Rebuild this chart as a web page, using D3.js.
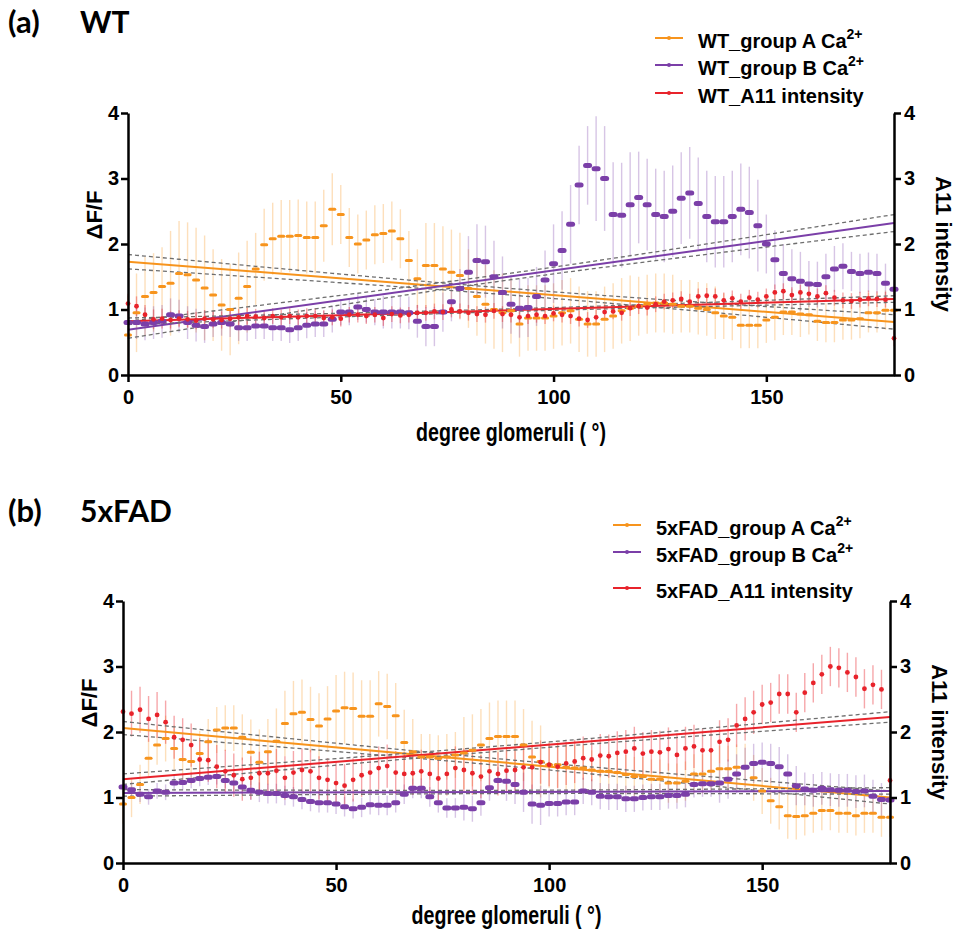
<!DOCTYPE html>
<html>
<head>
<meta charset="utf-8">
<script src="https://cdn.jsdelivr.net/npm/d3@7"></script>
<style>
  body { margin: 0; background: #fff; }
</style>
</head>
<body>
<div id="vis"></div>
<script>
// x grid (degrees) shared by every series, one point every 2 degrees
const degrees = d3.range(0, 181, 2);

// WT panel, values
const wtGroupA = [0.61, 0.95, 1.2, 1.26, 1.35, 1.4, 1.55, 1.53, 1.45, 1.33,
  1.22, 1.07, 1.0, 1.17, 1.35, 1.62, 1.99, 2.08, 2.12, 2.12,
  2.13, 2.1, 2.1, 2.28, 2.53, 2.45, 2.1, 2.0, 2.06, 2.14,
  2.16, 2.2, 2.08, 1.75, 1.47, 1.67, 1.67, 1.62, 1.57, 1.52,
  1.32, 1.2, 1.08, 1.0, 0.95, 0.98, 0.78, 0.87, 0.87, 0.87,
  0.9, 0.95, 0.98, 0.85, 0.78, 0.78, 0.85, 0.9, 0.98, 1.02,
  1.05, 1.08, 1.1, 1.1, 1.08, 1.05, 1.05, 1.02, 1.0, 0.95,
  0.9, 0.88, 0.76, 0.76, 0.76, 0.84, 0.88, 0.96, 0.96, 0.93,
  0.92, 0.82, 0.8, 0.8, 0.84, 0.84, 0.86, 0.95, 0.95, 0.99, 0.99];
const wtGroupB = [0.8, 0.8, 0.78, 0.8, 0.82, 0.92, 0.9, 0.8, 0.76, 0.74,
  0.78, 0.8, 0.78, 0.72, 0.72, 0.75, 0.75, 0.72, 0.72, 0.69,
  0.72, 0.76, 0.78, 0.78, 0.85, 0.96, 0.96, 1.04, 1.0, 0.96,
  0.96, 0.96, 0.96, 0.95, 0.82, 0.74, 0.74, 0.96, 1.12, 1.32,
  1.57, 1.75, 1.73, 1.5, 1.26, 1.08, 1.02, 1.03, 1.2, 1.45,
  1.7, 1.9, 2.3, 2.9, 3.2, 3.15, 3.0, 2.45, 2.44, 2.6,
  2.71, 2.6, 2.45, 2.42, 2.5, 2.7, 2.78, 2.62, 2.42, 2.34,
  2.34, 2.42, 2.53, 2.48, 2.28, 2.0, 1.76, 1.55, 1.47, 1.43,
  1.39, 1.38, 1.5, 1.62, 1.66, 1.58, 1.55, 1.57, 1.55, 1.4, 1.31];
const wtA11 = [1.09, 1.05, 0.92, 0.85, 0.86, 0.84, 0.86, 0.85, 0.83, 0.86,
  0.85, 0.84, 0.86, 0.88, 0.9, 0.89, 0.87, 0.9, 0.88, 0.9,
  0.88, 0.9, 0.9, 0.87, 0.88, 0.86, 0.92, 0.92, 0.9, 0.92,
  0.87, 0.93, 0.91, 0.92, 0.95, 0.95, 0.97, 0.96, 1.0, 0.97,
  0.95, 0.93, 0.92, 0.98, 0.93, 0.92, 0.88, 0.9, 0.92, 0.9,
  0.94, 0.92, 0.9, 0.86, 0.84, 0.88, 0.96, 0.97, 0.95, 1.02,
  1.05, 1.03, 1.08, 1.12, 1.14, 1.16, 1.12, 1.2, 1.21, 1.2,
  1.14, 1.17, 1.12, 1.18, 1.15, 1.2, 1.26, 1.28, 1.22, 1.26,
  1.24, 1.2, 1.25, 1.18, 1.14, 1.13, 1.15, 1.17, 1.16, 1.15, 0.56];

// 5xFAD panel
const fadGroupA = [0.9, 1.0, 1.2, 1.6, 1.8, 1.9, 1.75, 1.58, 1.55, 1.67,
  1.85, 2.03, 2.06, 2.06, 1.92, 1.69, 1.54, 1.7, 1.86, 2.13,
  2.28, 2.3, 2.19, 2.09, 2.2, 2.32, 2.37, 2.36, 2.24, 2.24,
  2.43, 2.39, 2.25, 1.84, 1.7, 1.62, 1.62, 1.6, 1.62, 1.65,
  1.68, 1.72, 1.8, 1.9, 1.93, 1.93, 1.93, 1.8, 1.62, 1.55,
  1.5, 1.5, 1.46, 1.45, 1.45, 1.42, 1.4, 1.4, 1.38, 1.35,
  1.32, 1.32, 1.28, 1.28, 1.22, 1.22, 1.25, 1.36, 1.36, 1.4,
  1.44, 1.44, 1.46, 1.47, 1.3, 1.1, 0.95, 0.86, 0.72, 0.71,
  0.72, 0.76, 0.8, 0.8, 0.76, 0.76, 0.72, 0.76, 0.76, 0.7, 0.7];
const fadGroupB = [1.16, 1.12, 1.05, 1.01, 1.1, 1.08, 1.22, 1.23, 1.26, 1.29,
  1.31, 1.32, 1.26, 1.22, 1.16, 1.11, 1.08, 1.06, 1.06, 1.03,
  1.01, 0.97, 0.94, 0.92, 0.92, 0.9, 0.86, 0.83, 0.85, 0.89,
  0.88, 0.88, 0.92, 1.05, 1.14, 1.14, 1.01, 0.92, 0.84, 0.84,
  0.85, 0.83, 0.92, 1.15, 1.26, 1.25, 1.2, 1.08, 0.9, 0.88,
  0.91, 0.91, 0.93, 0.93, 1.1, 1.08, 1.02, 1.01, 1.01, 0.98,
  0.98, 1.0, 1.01, 1.01, 1.03, 1.03, 1.05, 1.2, 1.21, 1.21,
  1.22, 1.28, 1.36, 1.46, 1.52, 1.54, 1.52, 1.47, 1.36, 1.18,
  1.13, 1.11, 1.14, 1.12, 1.11, 1.11, 1.09, 1.1, 1.02, 0.97, 0.96];
const fadA11 = [2.31, 2.28, 2.34, 2.2, 2.26, 2.15, 1.92, 1.88, 1.8, 1.58,
  1.57, 1.47, 1.4, 1.34, 1.28, 1.3, 1.37, 1.37, 1.41, 1.3,
  1.38, 1.42, 1.4, 1.3, 1.27, 1.22, 1.18, 1.27, 1.34, 1.38,
  1.45, 1.48, 1.38, 1.36, 1.37, 1.4, 1.36, 1.29, 1.36, 1.45,
  1.42, 1.37, 1.32, 1.4, 1.36, 1.41, 1.42, 1.46, 1.46, 1.54,
  1.5, 1.47, 1.52, 1.55, 1.6, 1.58, 1.64, 1.63, 1.68, 1.7,
  1.75, 1.67, 1.7, 1.69, 1.74, 1.65, 1.75, 1.78, 1.72, 1.72,
  1.85, 1.88, 2.1, 2.2, 2.3, 2.42, 2.45, 2.58, 2.58, 2.3,
  2.6, 2.75, 2.88, 3.0, 2.98, 2.91, 2.84, 2.66, 2.72, 2.65, 1.26];

// error bar half heights, one value per 10-degree block (0-9, 10-19, ... 180)
const wtGroupAErr = [0.6, 0.8, 0.7, 0.55, 0.55, 0.45, 0.45, 0.65, 0.6, 0.5, 0.5, 0.5, 0.45, 0.4, 0.35, 0.35, 0.3, 0.3, 0.3];
const wtGroupBErr = [0.25, 0.25, 0.2, 0.2, 0.2, 0.2, 0.25, 0.3, 0.55, 0.45, 0.6, 0.8, 0.7, 0.7, 0.7, 0.45, 0.35, 0.3, 0.3];
const wtA11Err = [0.15, 0.13, 0.13, 0.12, 0.12, 0.12, 0.12, 0.12, 0.12, 0.12, 0.12, 0.12, 0.12, 0.12, 0.12, 0.12, 0.12, 0.12, 0.12];
const fadGroupAErr = [0.3, 0.35, 0.35, 0.5, 0.5, 0.55, 0.5, 0.35, 0.55, 0.55, 0.35, 0.3, 0.3, 0.3, 0.35, 0.35, 0.3, 0.3, 0.3];
const fadGroupBErr = [0.12, 0.12, 0.12, 0.15, 0.15, 0.15, 0.15, 0.15, 0.2, 0.3, 0.2, 0.2, 0.2, 0.2, 0.3, 0.3, 0.25, 0.25, 0.25];
const fadA11Err = [0.35, 0.33, 0.33, 0.33, 0.33, 0.33, 0.33, 0.33, 0.33, 0.33, 0.33, 0.33, 0.33, 0.33, 0.33, 0.3, 0.3, 0.3, 0.3];

// linear fits: [value at 0, value at 180]; 95% band half width: [at the ends, at the middle]
const wtFitA = [1.73, 0.81], wtBandA = [0.11, 0.05];
const wtFitB = [0.69, 2.32], wtBandB = [0.13, 0.05];
const wtFitA11 = [0.82, 1.16], wtBandA11 = [0.05, 0.02];
const fadFitA = [2.06, 1.0], fadBandA = [0.1, 0.05];
const fadFitB = [1.07, 1.1], fadBandB = [0.05, 0.025];
const fadFitA11 = [1.28, 2.23], fadBandA11 = [0.08, 0.04];

const yTicks = [0, 1, 2, 3, 4];
const xTicks = [0, 50, 100, 150];

const orange = '#f7941d', purple = '#7b3fa8', red = '#e8232b';
const sans = '"Liberation Sans", Arial, sans-serif';
const heading = 'Lato, "Liberation Sans", sans-serif';

const svg = d3.select('#vis').append('svg')
  .attr('width', 956).attr('height', 933)
  .style('background', '#fff');

const panels = [
  {
    tag: '(a)', name: 'WT', tagY: 33,
    left: 128, right: 894, top: 113, bottom: 375,
    yLabelX: 94, yLabelY: 215, xLabelY: 441,
    legendX: 655, legendY: [41, 68, 96],
    series: [
      { label: 'WT_group A ', sup: true, values: wtGroupA, err: wtGroupAErr, fit: wtFitA, band: wtBandA, color: orange, kind: 'a' },
      { label: 'WT_group B ', sup: true, values: wtGroupB, err: wtGroupBErr, fit: wtFitB, band: wtBandB, color: purple, kind: 'b' },
      { label: 'WT_A11 intensity', sup: false, values: wtA11, err: wtA11Err, fit: wtFitA11, band: wtBandA11, color: red, kind: 'r' }
    ]
  },
  {
    tag: '(b)', name: '5xFAD', tagY: 522,
    left: 123, right: 890, top: 601, bottom: 863,
    yLabelX: 89, yLabelY: 703, xLabelY: 924,
    legendX: 613, legendY: [528, 555, 591],
    series: [
      { label: '5xFAD_group A ', sup: true, values: fadGroupA, err: fadGroupAErr, fit: fadFitA, band: fadBandA, color: orange, kind: 'a' },
      { label: '5xFAD_group B ', sup: true, values: fadGroupB, err: fadGroupBErr, fit: fadFitB, band: fadBandB, color: purple, kind: 'b' },
      { label: '5xFAD_A11 intensity', sup: false, values: fadA11, err: fadA11Err, fit: fadFitA11, band: fadBandA11, color: red, kind: 'r' }
    ]
  }
];

panels.forEach(p => {
  const x = d3.scaleLinear().domain([0, 180]).range([p.left, p.right]);
  const y = d3.scaleLinear().domain([0, 4]).range([p.bottom, p.top]);
  const g = svg.append('g');

  // panel heading
  svg.append('text').attr('x', 8).attr('y', p.tagY)
    .style('font-family', heading).style('font-weight', 'bold').style('font-size', '31px')
    .text(p.tag);
  svg.append('text').attr('x', 80).attr('y', p.tagY)
    .style('font-family', heading).style('font-weight', 'bold').style('font-size', '30px')
    .text(p.name);

  // error bars
  p.series.forEach(s => {
    g.append('g').selectAll('line')
      .data(degrees)
      .join('line')
      .attr('x1', d => x(d)).attr('x2', d => x(d))
      .attr('y1', (d, i) => y(s.values[i] + s.err[Math.floor(d / 10)]))
      .attr('y2', (d, i) => y(Math.max(0, s.values[i] - s.err[Math.floor(d / 10)])))
      .attr('stroke', s.color)
      .attr('stroke-opacity', s.kind === 'r' ? 0.4 : 0.3)
      .attr('stroke-width', 1.4);
  });

  // regression lines with dashed 95% band
  p.series.forEach(s => {
    const fitAt = d => s.fit[0] + (s.fit[1] - s.fit[0]) * d / 180;
    const half = d => Math.sqrt(s.band[1] ** 2 + (s.band[0] ** 2 - s.band[1] ** 2) * ((d - 90) / 90) ** 2);
    [-1, 1].forEach(sign => {
      g.append('path')
        .attr('d', d3.line().x(d => x(d)).y(d => y(fitAt(d) + sign * half(d)))(degrees))
        .attr('fill', 'none').attr('stroke', '#6e6e6e')
        .attr('stroke-width', 1.3).attr('stroke-dasharray', '4,3');
    });
    g.append('path')
      .attr('d', d3.line().x(d => x(d)).y(d => y(fitAt(d)))([0, 180]))
      .attr('fill', 'none').attr('stroke', s.color).attr('stroke-width', 2);
  });

  // markers
  p.series.forEach(s => {
    const mg = g.append('g');
    if (s.kind === 'r') {
      mg.selectAll('circle').data(degrees).join('circle')
        .attr('cx', d => x(d)).attr('cy', (d, i) => y(s.values[i]))
        .attr('r', 2.4).attr('fill', s.color);
    } else {
      const w = s.kind === 'b' ? 9 : 8, h = s.kind === 'b' ? 5 : 3;
      mg.selectAll('rect').data(degrees).join('rect')
        .attr('x', d => x(d) - w / 2).attr('y', (d, i) => y(s.values[i]) - h / 2)
        .attr('width', w).attr('height', h).attr('rx', h / 2)
        .attr('fill', s.color);
    }
  });

  // axes
  const styleAxis = a => {
    a.selectAll('path, line').attr('stroke', '#000').attr('stroke-width', 2.5);
    a.selectAll('text').style('font-family', sans).style('font-weight', 'bold')
      .style('font-size', '20px').attr('fill', '#000');
  };
  svg.append('g').attr('transform', `translate(${p.left},0)`)
    .call(d3.axisLeft(y).tickValues(yTicks).tickFormat(d3.format('d')).tickSize(7).tickSizeOuter(0).tickPadding(2))
    .call(styleAxis);
  svg.append('g').attr('transform', `translate(${p.right},0)`)
    .call(d3.axisRight(y).tickValues(yTicks).tickFormat(d3.format('d')).tickSize(7).tickSizeOuter(0).tickPadding(3))
    .call(styleAxis);
  svg.append('g').attr('transform', `translate(0,${p.bottom})`)
    .call(d3.axisBottom(x).tickValues(xTicks).tickFormat(d3.format('d')).tickSize(7).tickSizeOuter(0).tickPadding(8))
    .call(styleAxis);

  // axis titles
  svg.append('text')
    .attr('transform', `translate(${p.yLabelX},${p.yLabelY}) rotate(-90)`)
    .attr('text-anchor', 'middle').attr('dy', '0.35em')
    .style('font-family', sans).style('font-weight', 'bold').style('font-size', '22px')
    .text('ΔF/F');
  svg.append('text')
    .attr('transform', `translate(${p.right + 50},${(p.top + p.bottom) / 2}) rotate(90)`)
    .attr('text-anchor', 'middle').attr('dy', '0.35em')
    .style('font-family', sans).style('font-weight', 'bold').style('font-size', '22px')
    .text('A11 intensity');
  svg.append('text')
    .attr('x', (p.left + p.right) / 2).attr('y', p.xLabelY)
    .attr('text-anchor', 'middle')
    .attr('textLength', 190).attr('lengthAdjust', 'spacingAndGlyphs')
    .style('font-family', sans).style('font-weight', 'bold').style('font-size', '26px')
    .text('degree glomeruli ( °)');

  // legend
  p.series.forEach((s, i) => {
    const ly = p.legendY[i];
    const lg = svg.append('g');
    lg.append('line').attr('x1', p.legendX).attr('x2', p.legendX + 28)
      .attr('y1', ly - 3).attr('y2', ly - 3)
      .attr('stroke', s.color).attr('stroke-width', 2);
    lg.append('circle').attr('cx', p.legendX + 14).attr('cy', ly - 3).attr('r', 2).attr('fill', s.color);
    const t = lg.append('text').attr('x', p.legendX + 43).attr('y', ly + 7)
      .style('font-family', sans).style('font-weight', 'bold').style('font-size', '20px')
      .text(s.label);
    if (s.sup) {
      t.append('tspan').text('Ca');
      t.append('tspan').attr('dy', -9).style('font-size', '14px').text('2+');
    }
  });
});
</script>
</body>
</html>
